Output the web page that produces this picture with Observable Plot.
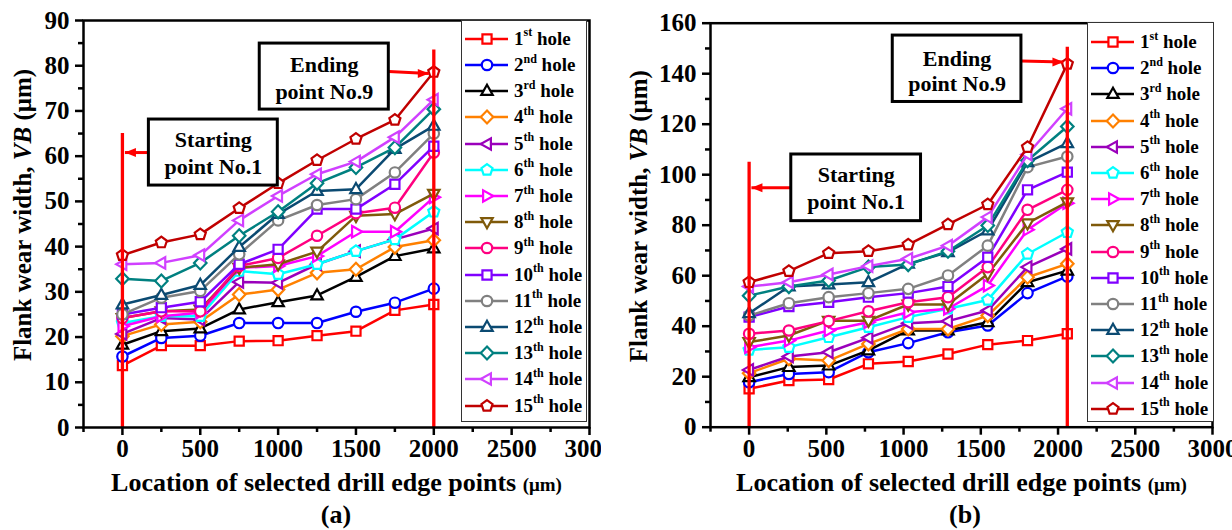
<!DOCTYPE html>
<html><head><meta charset="utf-8">
<script src="https://cdn.jsdelivr.net/npm/d3@7"></script>
<script src="https://cdn.jsdelivr.net/npm/@observablehq/plot@0.6"></script>
<style>
body{margin:0;background:#fff;}
#wrap{position:relative;width:1232px;height:530px;overflow:hidden;background:#fff;font-family:"Liberation Serif","Times New Roman",serif;font-weight:bold;}
.panel{position:absolute;top:0;height:530px;overflow:hidden;}
#wrap .panel svg{position:absolute;left:0;top:0;max-width:none !important;}
#wrap .panel .row svg{position:static;}
.legend{position:absolute;border:1.5px solid #333;background:#fff;box-sizing:border-box;}
.row{position:absolute;left:0;height:26px;display:flex;align-items:center;font-size:19px;white-space:nowrap;color:#000;}
.row svg{flex:none;}
.row sup{font-size:12px;position:relative;top:-1px;line-height:0;vertical-align:super;}
.cap{position:absolute;top:500px;height:30px;line-height:30px;text-align:center;font-size:26px;width:200px;}
</style>
</head><body>
<div id="wrap">
  <div id="pa" class="panel" style="left:0;width:601px;"></div>
  <div id="pb" class="panel" style="left:616px;width:616px;"></div>
</div>
<script>
// ---------------- data ----------------
const legendLabels = ["1st hole","2nd hole","3rd hole","4th hole","5th hole","6th hole","7th hole","8th hole","9th hole","10th hole","11th hole","12th hole","13th hole","14th hole","15th hole"];
const xTickLabels = [0, 500, 1000, 1500, 2000, 2500, 3000];
const yTicksA = [0,10,20,30,40,50,60,70,80,90];
const yTicksB = [0,20,40,60,80,100,120,140,160];

const locationsA = [0,250,500,750,1000,1250,1500,1750,2000];
const locationsB = [0,257.5,515,772.5,1030,1287.5,1545,1802.5,2060];

const wearA = [
  [13.7,18.1,18.1,19.1,19.2,20.3,21.3,25.9,27.2],
  [15.7,19.8,20.3,23.1,23.1,23.1,25.6,27.6,30.7],
  [18.3,21.3,21.9,26.1,27.7,29.2,33.3,37.9,39.6],
  [20.2,22.8,23.4,29.4,30.5,34.2,35.0,39.9,41.4],
  [20.7,24.2,23.9,32.2,32.0,36.1,39.0,41.6,44.0],
  [23.1,24.6,24.6,34.6,33.9,36.1,39.0,41.6,47.7],
  [22.4,24.6,25.4,35.3,35.7,37.9,43.3,43.3,50.9],
  [24.2,25.7,26.1,35.3,36.1,38.9,46.8,47.2,51.7],
  [24.2,25.7,25.7,35.7,37.5,42.4,47.4,48.6,60.8],
  [25.0,26.5,27.8,36.1,39.4,48.3,48.3,53.8,62.2],
  [25.0,28.7,30.2,38.3,45.8,49.2,50.5,56.4,65.0],
  [27.2,29.3,31.5,39.9,47.2,52.3,52.7,61.6,66.7],
  [32.9,32.4,36.4,42.4,47.7,54.0,57.5,61.9,70.4],
  [36.1,36.4,38.1,45.8,51.2,56.0,58.8,64.2,72.5],
  [38.1,40.9,42.7,48.5,54.0,59.1,63.8,68.0,78.6]
];
const wearB = [
  [15.2,18.5,18.9,25.1,26.0,29.0,32.7,34.3,37.0],
  [17.8,21.1,21.8,29.7,33.3,37.6,40.3,53.1,59.7],
  [19.8,23.8,24.4,30.4,38.3,38.3,41.6,57.4,62.0],
  [21.4,27.1,26.4,33.0,38.9,38.9,44.2,59.4,64.7],
  [22.7,28.0,29.7,35.4,41.2,42.0,46.2,63.4,70.6],
  [30.6,31.7,35.6,39.6,43.6,46.9,50.4,68.6,77.2],
  [31.7,34.3,38.3,41.6,45.5,46.9,56.1,78.2,88.7],
  [33.7,36.3,42.2,42.2,48.6,48.6,60.7,80.8,89.1],
  [37.0,38.3,42.0,45.9,49.5,51.5,63.4,86.1,94.0],
  [43.6,47.8,49.5,51.5,53.1,55.7,67.3,94.0,101.0],
  [44.2,49.1,51.5,53.1,54.8,60.1,71.9,103.0,107.2],
  [45.1,55.7,56.5,57.4,64.7,69.3,77.9,104.9,112.5],
  [52.1,55.7,58.1,63.4,64.4,69.7,79.9,105.6,119.1],
  [55.7,57.4,60.5,63.8,66.7,71.9,83.2,108.0,126.1],
  [57.4,61.8,68.9,69.7,72.3,80.3,88.2,110.9,143.9]
];

// annotations (data units)
const annotA = {
  startLine: {x: 0, top: 65}, endLine: {x: 2000, top: 83.5},
  startArrow: {x1: 170, y1: 60.8, x2: 16, y2: 60.8},
  endArrow: {x1: 1711, y1: 78.7, x2: 1968, y2: 78.3},
  startBox: {x1: 170, x2: 998, y1: 53.5, y2: 68.1, lines: [["Starting", 63.6], ["point No.1", 57.7]]},
  endBox: {x1: 882, x2: 1711, y1: 70.3, y2: 84.9, lines: [["Ending", 80.1], ["point No.9", 74.2]]}
};
const annotB = {
  startLine: {x: 0, top: 104.9}, endLine: {x: 2060, top: 150.5},
  startArrow: {x1: 273, y1: 94.8, x2: 15, y2: 94.8},
  endArrow: {x1: 1763, y1: 145, x2: 2035, y2: 144.6},
  startBox: {x1: 273, x2: 1113, y1: 81.6, y2: 108.0, lines: [["Starting", 99.8], ["point No.1", 89.3]]},
  endBox: {x1: 930, x2: 1763, y1: 128.8, y2: 155.1, lines: [["Ending", 146.0], ["point No.9", 136.1]]}
};

// ---------------- styles ----------------
const colors = ["#ff0000","#0000ff","#000000","#ff8000","#9a00bb","#00ffff","#ff00ff","#7f5a0a","#ff0080","#8000ff","#808080","#0b4a72","#008080","#d040ff","#c00000"];

function poly(pts){
  return {draw(c, s){const r = Math.sqrt(s/Math.PI); pts.forEach(([px,py],i)=> i? c.lineTo(px*r,py*r) : c.moveTo(px*r,py*r)); c.closePath();}};
}
const pent = d3.range(5).map(i => {const a = -Math.PI/2 + i*2*Math.PI/5; return [1.12*Math.cos(a), 1.12*Math.sin(a)];});
const S = {
  square: {draw(c,s){const r = Math.sqrt(s/Math.PI)*0.88; c.moveTo(-r,-r); c.lineTo(r,-r); c.lineTo(r,r); c.lineTo(-r,r); c.closePath();}},
  circle: {draw(c,s){const r = Math.sqrt(s/Math.PI); c.moveTo(r,0); c.arc(0,0,r,0,2*Math.PI);}},
  up: poly([[0,-1.2],[1.1,0.75],[-1.1,0.75]]),
  down: poly([[0,1.2],[1.1,-0.75],[-1.1,-0.75]]),
  left: poly([[-1.2,0],[0.75,-1.1],[0.75,1.1]]),
  right: poly([[1.2,0],[-0.75,-1.1],[-0.75,1.1]]),
  diamond: poly([[0,-1.25],[1.2,0],[0,1.25],[-1.2,0]]),
  pentagon: poly(pent)
};
const symbols = [S.square,S.circle,S.up,S.diamond,S.left,S.pentagon,S.right,S.down,S.circle,S.square,S.circle,S.up,S.diamond,S.left,S.pentagon];
const headLeft = {draw(c){c.moveTo(0,0); c.lineTo(11,-4.5); c.lineTo(11,4.5); c.closePath();}};
const headRight = {draw(c){c.moveTo(0,0); c.lineTo(-11,-4.5); c.lineTo(-11,4.5); c.closePath();}};

const yTitle = "Flank wear width, VB (μm)";
const xTitle = "Location of selected drill edge points (μm)";
const fontStack = '"Liberation Serif","Times New Roman",serif';

function makePlot(cfg){
  const marks = [];
  const minorX = d3.range(-250, 3001, 500);
  const fmt = d => String(d);
  marks.push(Plot.axisX(xTickLabels, {tickSize: 8, tickPadding: 4, strokeWidth: 2.5, fontSize: 25, tickFormat: fmt, label: null}));
  marks.push(Plot.axisX(minorX, {tickSize: 5, strokeWidth: 2.5, tickFormat: () => "", label: null}));
  marks.push(Plot.axisY(cfg.yMajor, {tickSize: 8, tickPadding: 6, strokeWidth: 2.5, fontSize: 25, tickFormat: fmt, label: null}));
  marks.push(Plot.axisY(cfg.yMinor, {tickSize: 5, strokeWidth: 2.5, tickFormat: () => "", label: null}));
  cfg.series.forEach((vals, k) => {
    const rows = vals.map((v, i) => ({x: cfg.xs[i], y: v}));
    marks.push(Plot.line(rows, {x: "x", y: "y", stroke: colors[k], strokeWidth: 2.5}));
    marks.push(Plot.dot(rows, {x: "x", y: "y", symbol: symbols[k], r: 5.2, stroke: colors[k], strokeWidth: 2.2, fill: "white"}));
  });
  const a = cfg.annot;
  marks.push(Plot.ruleX([a.startLine, a.endLine], {x: "x", y1: 0, y2: "top", stroke: "#ff0000", strokeWidth: 3.3}));
  for (const [arrow, head] of [[a.startArrow, headLeft], [a.endArrow, headRight]]) {
    marks.push(Plot.link([arrow], {x1: "x1", y1: "y1", x2: "x2", y2: "y2", stroke: "#ff0000", strokeWidth: 3}));
    marks.push(Plot.dot([arrow], {x: "x2", y: "y2", symbol: head, r: 5, fill: "#ff0000", stroke: "none"}));
  }
  for (const box of [a.startBox, a.endBox]) {
    marks.push(Plot.rect([box], {x1: "x1", x2: "x2", y1: "y1", y2: "y2", fill: "white", stroke: "black", strokeWidth: 3}));
    const cx = (box.x1 + box.x2) / 2;
    marks.push(Plot.text(box.lines, {x: () => cx, y: d => d[1], text: d => d[0], fontSize: 22}));
  }
  marks.push(Plot.frame({stroke: "black", strokeWidth: 2.5}));
  marks.push(Plot.text([yTitle], {frameAnchor: "left", textAnchor: "middle", lineAnchor: "middle", rotate: -90, dx: cfg.yTitleDx, dy: -9, fontSize: 25}));
  marks.push(Plot.text([xTitle], {frameAnchor: "bottom", textAnchor: "middle", lineAnchor: "middle", dy: 55, fontSize: 26}));
  const svg = Plot.plot({
    width: 616, height: 500,
    marginLeft: cfg.ml, marginRight: cfg.mr, marginTop: cfg.mt, marginBottom: cfg.mb,
    style: {fontFamily: fontStack, fontWeight: "bold", fontSize: "25px", background: "white", color: "black", maxWidth: "none"},
    x: {domain: [-250, 3000]},
    y: {domain: cfg.yDomain},
    marks
  });
  d3.select(svg).selectAll("text").attr("font-family", fontStack).attr("font-weight", "bold");
  d3.select(svg).selectAll("text").each(function(){
    const t = this.textContent;
    const sel = d3.select(this);
    if (t === yTitle) {
      sel.text(null);
      sel.append("tspan").text("Flank wear width, ");
      sel.append("tspan").attr("font-style", "italic").text("VB");
      sel.append("tspan").text(" (μm)");
    } else if (t === xTitle) {
      sel.text(null);
      sel.append("tspan").text("Location of selected drill edge points ");
      sel.append("tspan").attr("font-size", "19px").text("(μm)");
    }
  });
  return svg;
}

function makeLegend(container, pos){
  const lg = d3.select(container).append("div").attr("class", "legend")
    .style("left", pos.left + "px").style("top", pos.top + "px")
    .style("width", pos.width + "px").style("height", pos.height + "px");
  legendLabels.forEach((lab, k) => {
    const m = lab.match(/^(\d+)(st|nd|rd|th) (.*)$/);
    const row = lg.append("div").attr("class", "row").style("top", (pos.first + k * pos.step - 13) + "px");
    const sv = row.append("svg").attr("width", 50).attr("height", 26);
    sv.append("line").attr("x1", 3).attr("x2", 46).attr("y1", 13).attr("y2", 13).attr("stroke", colors[k]).attr("stroke-width", 2.5);
    const p = d3.path(); symbols[k].draw(p, 5.2 * 5.2 * Math.PI);
    sv.append("path").attr("d", p.toString()).attr("transform", "translate(25,13)").attr("fill", "white").attr("stroke", colors[k]).attr("stroke-width", 2.2);
    const sp = row.append("span").style("margin-left", "2px");
    sp.append("span").text(m[1]);
    sp.append("sup").text(m[2]);
    sp.append("span").text(" " + m[3]);
  });
}

const pa = document.getElementById("pa");
pa.appendChild(makePlot({xs: locationsA, series: wearA, yDomain: [0, 90], yMajor: yTicksA, yMinor: d3.range(5, 90, 10),
  annot: annotA, ml: 83, mr: 27, mt: 20, mb: 73, yTitleDx: -61}));
makeLegend(pa, {left: 461, top: 20, width: 126, height: 402, first: 17.7, step: 26.2});
d3.select(pa).append("div").attr("class", "cap").style("left", (336 - 100) + "px").text("(a)");

const pb = document.getElementById("pb");
pb.appendChild(makePlot({xs: locationsB, series: wearB, yDomain: [0, 160], yMajor: yTicksB, yMinor: d3.range(10, 160, 20),
  annot: annotB, ml: 94, mr: 20, mt: 22.7, mb: 73.3, yTitleDx: -72}));
makeLegend(pb, {left: 471, top: 21.7, width: 127, height: 400.3, first: 19.3, step: 26.2});
d3.select(pb).append("div").attr("class", "cap").style("left", (349 - 100) + "px").text("(b)");
</script>
</body></html>
